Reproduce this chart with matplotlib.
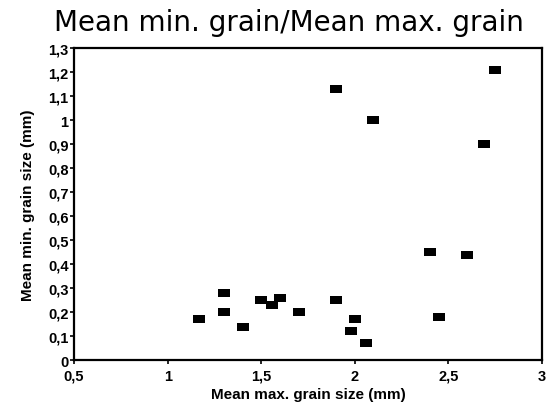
import matplotlib
matplotlib.use("Agg")
import matplotlib.pyplot as plt
from matplotlib.ticker import FuncFormatter, MultipleLocator

# Datos
max_grain = [1.17, 1.30, 1.30, 1.40, 1.50, 1.56, 1.60, 1.70, 1.90, 2.00,
             1.98, 2.06, 2.45, 2.75, 1.90, 2.10, 2.69, 2.40, 2.60]
min_grain = [0.17, 0.28, 0.20, 0.14, 0.25, 0.23, 0.26, 0.20, 0.25, 0.17,
             0.12, 0.07, 0.18, 1.21, 1.13, 1.00, 0.90, 0.45, 0.44]

titulo = "Mean min. grain/Mean max. grain"
xlabel = "Mean max. grain size (mm)"
ylabel = "Mean min. grain size (mm)"


def coma(v, pos):
    return ("%g" % round(v, 2)).replace(".", ",")


fig = plt.figure(figsize=(5.49, 4.10), dpi=100, facecolor='w')
ax = fig.add_axes([0.135, 0.119, 0.852, 0.761])

# marcador rectangular (mas ancho que alto)
rect = [(-1, -0.75), (1, -0.75), (1, 0.75), (-1, 0.75), (-1, -0.75)]
ax.scatter(max_grain, min_grain, marker=rect, s=70, color='k', linewidths=0,
           zorder=3)

ax.set_xlim(0.5, 3)
ax.set_ylim(0, 1.3)
ax.xaxis.set_major_locator(MultipleLocator(0.5))
ax.yaxis.set_major_locator(MultipleLocator(0.1))
ax.xaxis.set_major_formatter(FuncFormatter(coma))
ax.yaxis.set_major_formatter(FuncFormatter(coma))

for s in ax.spines.values():
    s.set_linewidth(1.6)
    s.set_color('k')

ax.tick_params(axis='y', direction='out', length=3, width=1.2, pad=1,
               labelsize=10.5)
ax.tick_params(axis='x', direction='out', length=3, width=1.2, pad=3,
               labelsize=10.5)
for lab in ax.get_xticklabels() + ax.get_yticklabels():
    lab.set_fontfamily('Liberation Sans')
    lab.set_fontweight('bold')

ax.set_xlabel(xlabel, fontsize=11, family='Liberation Sans',
              fontweight='bold', labelpad=3)
ax.set_ylabel(ylabel, fontsize=11, family='Liberation Sans',
              fontweight='bold', labelpad=9)

fig.text(0.527, 0.944, titulo, ha='center', va='center', fontsize=20,
         family='DejaVu Sans')

fig.savefig("out.png", dpi=100)
